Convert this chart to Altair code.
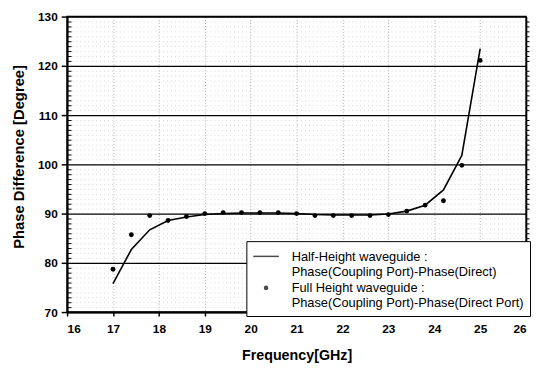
import altair as alt
import pandas as pd

freq = [17.0, 17.4, 17.8, 18.2, 18.6, 19.0, 19.4, 19.8, 20.2, 20.6, 21.0,
        21.4, 21.8, 22.2, 22.6, 23.0, 23.4, 23.8, 24.2, 24.6, 25.0]
half_height = [75.8, 82.7, 86.7, 88.6, 89.3, 89.8, 90.0, 90.1, 90.1, 90.1, 90.0,
               89.8, 89.7, 89.7, 89.7, 89.9, 90.5, 91.7, 94.8, 101.8, 123.5]
full_height = [78.7, 85.7, 89.6, 88.6, 89.4, 90.0, 90.2, 90.2, 90.2, 90.2, 90.0,
               89.6, 89.6, 89.6, 89.6, 89.8, 90.5, 91.7, 92.6, 99.8, 121.1]
series_names = [
    "Half-Height waveguide :|Phase(Coupling Port)-Phase(Direct)",
    "Full Height waveguide :|Phase(Coupling Port)-Phase(Direct Port)",
]
x_ticks = list(range(16, 27))
y_major = list(range(70, 131, 10))
y_minor = [v for v in range(70, 131) if v % 10 != 0]

df = pd.DataFrame({
    "freq": freq + freq,
    "value": half_height + full_height,
    "series": [series_names[0]] * len(freq) + [series_names[1]] * len(freq),
})

FONT = "Liberation Sans"
W, H = 466, 300

xscale = alt.Scale(domain=[16, 26], nice=False, zero=False)
yscale = alt.Scale(domain=[70, 130], nice=False, zero=False)

xaxis = alt.Axis(
    values=x_ticks, title="Frequency[GHz]", grid=True, gridDash=[1, 2],
    gridColor="#9a9a9a", gridWidth=0.8, tickSize=4, tickWidth=1.5,
    tickColor="black", domainColor="black", domainWidth=2,
    labelFont=FONT, labelFontSize=12, labelFontWeight="bold", labelColor="black",
    labelPadding=8, titleFont=FONT, titleFontSize=14.5, titleFontWeight="bold",
    titleColor="black", titleY=48, titleBaseline="alphabetic")
xenc = alt.X("freq:Q", scale=xscale, axis=xaxis)

base = alt.Chart(df)

line = base.transform_filter(alt.datum.series == series_names[0]).mark_line(
    color="black", strokeWidth=1.6
).encode(
    x=xenc,
    y=alt.Y("value:Q", scale=yscale, axis=alt.Axis(
        orient="left", values=y_major, title="Phase Difference [Degree]",
        grid=True, gridColor="black", gridWidth=1.3, tickSize=6, tickWidth=1.5,
        tickColor="black", domainColor="black", domainWidth=2,
        labelFont=FONT, labelFontSize=12, labelFontWeight="bold", labelColor="black",
        labelPadding=4, titleFont=FONT, titleFontSize=15, titleFontWeight="bold",
        titleColor="black", titleX=-44, titleY=142, titleBaseline="alphabetic")),
)

points = base.transform_filter(alt.datum.series == series_names[1]).mark_circle(
    color="black", size=24, opacity=1
).encode(
    x=xenc,
    y=alt.Y("value:Q", scale=yscale, axis=alt.Axis(
        orient="right", values=y_minor, labels=False, title=None, tickSize=3,
        tickColor="black", tickWidth=1, grid=True, gridDash=[1, 3],
        gridColor="#c4c4c4", gridWidth=0.7, domainColor="black", domainWidth=1.5)),
)

dot_path = ("M0.12,-0.35A0.12,0.12,0,1,1,-0.12,-0.35A0.12,0.12,0,1,1,0.12,-0.35Z"
            "M0.07,-0.35A0.07,0.07,0,1,1,-0.07,-0.35A0.07,0.07,0,1,1,0.07,-0.35Z"
            "M0.03,-0.35A0.03,0.03,0,1,1,-0.03,-0.35A0.03,0.03,0,1,1,0.03,-0.35Z")

legend_layer = base.transform_filter("false").mark_point(
    size=676, filled=False, color="black", strokeWidth=1.5
).encode(
    x=xenc,
    y=alt.Y("value:Q", scale=yscale, axis=alt.Axis(
        orient="right", offset=-W, values=y_minor, labels=False, title=None,
        tickSize=4, tickColor="black", tickWidth=1, grid=False, domain=False)),
    shape=alt.Shape("series:N", scale=alt.Scale(
        domain=series_names, range=["M-1,-0.35H1", dot_path]),
        legend=alt.Legend(
            orient="none", legendX=182, legendY=228, title=None,
            fillColor="white", strokeColor="black", padding=6,
            labelExpr="split(datum.label, '|')", labelLimit=400,
            labelFont=FONT, labelFontSize=13, labelColor="black",
            labelBaseline="alphabetic", labelOffset=12, rowPadding=-5,
            symbolSize=676, symbolStrokeWidth=1.5, symbolStrokeColor="black")),
)

chart = alt.layer(line, points, legend_layer).resolve_axis(y="independent").properties(
    width=W, height=H,
    autosize=alt.AutoSizeParams(type="none"),
    padding={"left": 60, "top": 6, "right": 5, "bottom": 50},
    background="white",
).configure_view(stroke="black", strokeWidth=1.5)

chart.save("out.html", embed_options={"renderer": "svg", "actions": False})
